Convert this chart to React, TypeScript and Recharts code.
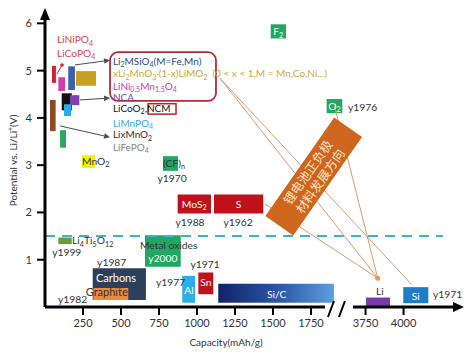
import React from 'react';
import { ComposedChart, XAxis, YAxis, ReferenceArea, ReferenceLine, ReferenceDot, Scatter, Label } from 'recharts';

const FONT = 'Lato, "Noto Sans", sans-serif';
const CJK = '"Noto Sans CJK SC", sans-serif';

// Broken capacity axis: values above 3000 mAh/g are drawn shifted left by GAP
const GAP = 1641;
const tx = (v: number) => (v > 3000 ? v - GAP : v);
const untx = (p: number) => (p > 1950 ? p + GAP : p);

const X_TICKS = [250, 500, 750, 1000, 1250, 1500, 1750, 3750, 4000];
const Y_TICKS = [1, 2, 3, 4, 5, 6];
const X_MAX = 4411;
const Y_MAX = 6.24;
const AXIS_LEFT_END = 1842;
const AXIS_RIGHT_START = 3667;
const BREAK_POS = 1921; // axis position (already shifted) of the "//" break

type Block = [string, number, number, number, number]; // name, cap min, cap max, V min, V max

const cathodes: Block[] = [
  ['LiNiPO4', 46, 72, 4.74, 5.1],
  ['LiNi0.5Mn1.5O4', 88, 132, 4.57, 4.86],
  ['Li2MSiO4', 153, 197, 4.59, 5.09],
  ['xLi2MnO3', 204, 336, 4.68, 4.99],
  ['LiCoO2', 110, 176, 4.16, 4.52],
  ['NCA', 164, 226, 4.27, 4.48],
  ['LiMnPO4', 125, 171, 4.04, 4.29],
  ['LixMnO2', 33, 70, 3.72, 4.38],
  ['LiFePO4', 99, 138, 3.37, 3.74],
];

const conversions: Block[] = [
  ['F2', 1485, 1586, 5.68, 5.98],
  ['O2', 1853, 1956, 4.1, 4.4],
  ['(CF)n', 776, 875, 2.88, 3.19],
  ['MoS2', 873, 1092, 1.98, 2.38],
  ['S', 1112, 1436, 1.98, 2.38],
];

const anodes: Block[] = [
  ['Li4Ti5O12', 88, 176, 1.33, 1.47],
  ['MetalOxides', 658, 893, 0.85, 1.52],
  ['Carbons', 314, 664, 0.15, 0.82],
  ['Graphite', 318, 548, 0.15, 0.4],
  ['Al', 903, 987, 0.09, 0.66],
  ['Sn', 1009, 1107, 0.27, 0.73],
  ['Si/C', 1140, 1901, 0.09, 0.49],
  ['Li', 3753, 3911, 0.02, 0.2],
  ['Si', 3998, 4163, 0.08, 0.42],
];

const BLOCK_COLORS: Record<string, string> = {
  LiNiPO4: '#d42032', 'LiNi0.5Mn1.5O4': '#d63ca8', Li2MSiO4: '#3a62a8', xLi2MnO3: '#c9a023',
  LiCoO2: '#111111', NCA: '#8040b0', LiMnPO4: '#28aee8', LixMnO2: '#8b4a2b', LiFePO4: '#2aaa60',
  F2: '#1fa862', O2: '#1fa862', '(CF)n': '#1fa862', MoS2: '#c0101a', S: '#c0101a',
  Li4Ti5O12: '#6b9a3c', MetalOxides: '#1fa862', Carbons: '#2e3f5c', Graphite: '#ee8a3c',
  Al: '#2eaee6', Sn: '#c0101a', 'Si/C': 'url(#sicGrad)', Li: '#7a3aa8', Si: '#1f7dc6',
};

// Cathode label list next to the left cluster
const CATHODE_LABEL_CAP = 447;
const cathodeLabels: [string, number][] = [
  ['Li_{2}MSiO_{4}(M=Fe,Mn)', 5.2],
  ['xLi_{2}MnO_{3}·(1-x)LiMO_{2}  (0 < x < 1,M = Mn,Co,Ni...)', 4.93],
  ['LiNi_{0.5}Mn_{1.5}O_{4}', 4.67],
  ['NCA', 4.43],
  ['LiCoO_{2},NCM', 4.2],
  ['LiMnPO_{4}', 3.89],
  ['LixMnO_{2}', 3.64],
  ['LiFePO_{4}', 3.38],
];
const CATHODE_LABEL_COLORS = ['#2b4a80', '#c4aa45', '#c33db2', '#7b3fa5', '#111111', '#35a7dc', '#4a2a20', '#85857a'];
const PHOSPHATE_LABEL_CAP = 79;
const phosphateLabels: [string, number][] = [['LiNiPO_{4}', 5.66], ['LiCoPO_{4}', 5.37]];

// label box around cathode names, and NCM box
const cathodeBox = { x1: 428, x2: 1125, y1: 4.36, y2: 5.39 };
const ncmBox = { x1: 678, x2: 862, y1: 4.08, y2: 4.3 };
const mnO2Highlight = { x1: 243, x2: 329, y1: 2.94, y2: 3.21 };

// captions: text, cap, V, colour kind, anchor
const captions: [string, number, number, string, string][] = [
  ['F_{2}', 1535, 5.83, 'w', 'middle'],
  ['O_{2}', 1904, 4.25, 'w', 'middle'],
  ['MoS_{2}', 982, 2.18, 'w', 'middle'],
  ['S', 1274, 2.18, 'w', 'middle'],
  ['Al', 947, 0.36, 'w', 'middle'],
  ['Sn', 1058, 0.53, 'w', 'middle'],
  ['Si/C', 1524, 0.27, 'w', 'middle'],
  ['Si', 4080, 0.23, 'w', 'middle'],
  ['Carbons', 467, 0.62, 'w', 'middle'],
  ['y2000', 776, 1.03, 'w', 'middle'],
  ['Graphite', 406, 0.32, 'd', 'middle'],
  ['Metal oxides', 814, 1.31, 'd', 'middle'],
  ['(CF)_{n}', 849, 3.04, 'd', 'middle'],
  ['Li_{4}Ti_{5}O_{12}', 178, 1.4, 'd', 'start'],
  ['Li', 3845, 0.34, 'd', 'middle'],
  ['MnO_{2}', 243, 3.09, 'd', 'start'],
];

// year labels: text, cap, V, anchor
const years: [string, number, number, string][] = [
  ['y1976', 1993, 4.23, 'start'],
  ['y1970', 836, 2.73, 'middle'],
  ['y1988', 954, 1.8, 'middle'],
  ['y1962', 1270, 1.8, 'middle'],
  ['y1999', 143, 1.15, 'middle'],
  ['y1987', 439, 0.95, 'middle'],
  ['y1982', 182, 0.17, 'middle'],
  ['y1977', 826, 0.53, 'middle'],
  ['y1971', 1053, 0.9, 'middle'],
  ['y1971', 4194, 0.27, 'start'],
];

// trend lines converging on Li and Si
const LI_POINT: [number, number] = [3830, 0.61];
const SI_POINT: [number, number] = [4055, 0.47];
const SRC_MNO3: [number, number] = [1151, 4.84];
const SRC_O2: [number, number] = [1905, 4.25];
const SRC_S: [number, number] = [1447, 2.18];
const trendLines: [[number, number], [number, number]][] = [
  [SRC_MNO3, LI_POINT],
  [SRC_MNO3, SI_POINT],
  [SRC_O2, LI_POINT],
  [SRC_S, LI_POINT],
];
const TREND_BOX: [number, number] = [1768, 2.76];

// black pointer arrows from blocks to the label box
const pointers: [[number, number], [number, number]][] = [
  [[197, 5.12], [428, 5.22]],
  [[230, 4.38], [428, 4.42]],
  [[99, 3.83], [428, 3.59]],
];
const redPointer: [[number, number], [number, number]] = [[79, 4.93], [112, 5.12]];

const DASH_V = 1.5;
const DASH_END = 4259;

function rich(s: string, fs: number) {
  const parts = s.split(/(_\{[^}]*\}|\^\{[^}]*\})/).filter((p) => p.length > 0);
  let cur = 0;
  return parts.map((p, i) => {
    let shift = 0;
    let size = fs;
    let t = p;
    if (p.startsWith('_{')) {
      shift = fs * 0.25; size = fs * 0.7; t = p.slice(2, -1);
    } else if (p.startsWith('^{')) {
      shift = -fs * 0.4; size = fs * 0.7; t = p.slice(2, -1);
    }
    const dy = shift - cur;
    cur = shift;
    return (
      <tspan key={i} dy={dy} fontSize={size}>
        {t}
      </tspan>
    );
  });
}

function textAt(key: string, cap: number, v: number, s: string, color: string, fs: number, anchor: string = 'start', weight: number = 400) {
  return (
    <ReferenceDot
      key={key}
      x={tx(cap)}
      y={v}
      ifOverflow="visible"
      shape={(p: any) => (
        <text
          x={p.cx}
          y={p.cy + fs * 0.35}
          textAnchor={anchor as any}
          fill={color}
          fontSize={fs}
          fontFamily={FONT}
          fontWeight={weight}
          style={{ whiteSpace: 'pre' }}
        >
          {rich(s, fs)}
        </text>
      )}
    />
  );
}

const arrowShape = (color: string) => (p: any) => {
  const { x1, y1, x2, y2 } = p;
  const a = Math.atan2(y2 - y1, x2 - x1);
  const L = 6;
  const W = 2.8;
  const bx = x2 - L * Math.cos(a);
  const by = y2 - L * Math.sin(a);
  const pts = `${x2},${y2} ${bx - W * Math.sin(a)},${by + W * Math.cos(a)} ${bx + W * Math.sin(a)},${by - W * Math.cos(a)}`;
  return (
    <g>
      <line x1={x1} y1={y1} x2={bx} y2={by} stroke={color} strokeWidth={1} />
      <polygon points={pts} fill={color} />
    </g>
  );
};

function blockAreas(list: Block[]) {
  return list.map(([name, c1, c2, v1, v2]) => (
    <ReferenceArea
      key={'b-' + name}
      x1={tx(c1)}
      x2={tx(c2)}
      y1={v1}
      y2={v2}
      fill={BLOCK_COLORS[name]}
      fillOpacity={1}
      stroke="none"
      ifOverflow="visible"
    />
  ));
}

export default function App() {
  const scatterData = [{ x: tx(LI_POINT[0]), y: LI_POINT[1] }];
  return (
    <div style={{ position: 'absolute', left: 0, top: 0, width: 474, height: 356, background: '#fff' }}>
      <ComposedChart width={474} height={356} margin={{ top: 12, right: 8, bottom: 0, left: 0 }}>
        <defs>
          <linearGradient id="sicGrad" x1="0" y1="0" x2="1" y2="0">
            <stop offset="0%" stopColor="#10236a" />
            <stop offset="55%" stopColor="#2d5aa8" />
            <stop offset="100%" stopColor="#5f9fdc" />
          </linearGradient>
        </defs>
        <XAxis
          type="number"
          dataKey="x"
          domain={[0, tx(X_MAX)]}
          allowDataOverflow
          ticks={X_TICKS.map(tx)}
          interval={0}
          tickFormatter={(v: number) => String(untx(v))}
          axisLine={false}
          tickLine={{ stroke: '#000', strokeWidth: 2 }}
          tickSize={8}
          tickMargin={4}
          height={49}
          tick={{ fontSize: 11, fill: '#333', fontFamily: FONT }}
        >
          <Label
            content={(props: any) => {
              const vb = props.viewBox || { x: 45, y: 307, width: 422 };
              return (
                <text x={vb.x + vb.width * 0.43} y={vb.y + 39} textAnchor="middle" fontSize={10} fill="#333" fontFamily={FONT}>
                  Capacity(mAh/g)
                </text>
              );
            }}
          />
        </XAxis>
        <YAxis
          type="number"
          dataKey="y"
          domain={[0, Y_MAX]}
          allowDataOverflow
          ticks={Y_TICKS}
          interval={0}
          width={45}
          axisLine={{ stroke: '#000', strokeWidth: 3 }}
          tickLine={{ stroke: '#000', strokeWidth: 2 }}
          tickSize={8}
          tickMargin={5}
          tick={{ fontSize: 11, fill: '#333', fontFamily: FONT }}
        >
          <Label
            content={(props: any) => {
              const vb = props.viewBox || { x: 0, y: 12, width: 45, height: 295 };
              const cx = vb.x + 16.5;
              const cy = vb.y + vb.height / 2 + 1;
              return (
                <text transform={`translate(${cx},${cy}) rotate(-90)`} textAnchor="middle" fontSize={10} fill="#333" fontFamily={FONT}>
                  {rich('Potential vs. Li/Li^{+}(V)', 10)}
                </text>
              );
            }}
          />
        </YAxis>

        {/* highlight behind MnO2 */}
        <ReferenceArea x1={mnO2Highlight.x1} x2={mnO2Highlight.x2} y1={mnO2Highlight.y1} y2={mnO2Highlight.y2} fill="#f4f400" fillOpacity={1} stroke="none" />

        {/* data blocks */}
        {blockAreas(cathodes)}
        {blockAreas(conversions)}
        {blockAreas(anodes)}

        <ReferenceArea
          x1={cathodeBox.x1}
          x2={cathodeBox.x2}
          y1={cathodeBox.y1}
          y2={cathodeBox.y2}
          ifOverflow="visible"
          shape={(p: any) => (
            <rect x={p.x} y={p.y} width={p.width} height={p.height} rx={8} ry={8} fill="none" stroke="#b52a3a" strokeWidth={1.8} />
          )}
        />
        <ReferenceArea
          x1={ncmBox.x1}
          x2={ncmBox.x2}
          y1={ncmBox.y1}
          y2={ncmBox.y2}
          ifOverflow="visible"
          shape={(p: any) => (
            <rect x={p.x} y={p.y} width={p.width} height={p.height} fill="none" stroke="#c0202a" strokeWidth={1.5} />
          )}
        />

        {/* dashed 1.5 V line */}
        <ReferenceLine
          segment={[{ x: 0, y: DASH_V }, { x: tx(DASH_END), y: DASH_V }]}
          stroke="#3fb1c9"
          strokeWidth={2}
          strokeDasharray="10 7"
          ifOverflow="visible"
        />

        {/* trend lines */}
        {trendLines.map(([a, b], i) => (
          <ReferenceLine
            key={'t' + i}
            segment={[{ x: tx(a[0]), y: a[1] }, { x: tx(b[0]), y: b[1] }]}
            stroke="#d89c70"
            strokeWidth={1}
            ifOverflow="visible"
          />
        ))}

        {/* pointer arrows */}
        {pointers.map(([a, b], i) => (
          <ReferenceLine
            key={'p' + i}
            segment={[{ x: tx(a[0]), y: a[1] }, { x: tx(b[0]), y: b[1] }]}
            ifOverflow="visible"
            shape={arrowShape('#4a4a5a')}
          />
        ))}
        <ReferenceLine
          segment={[{ x: redPointer[0][0], y: redPointer[0][1] }, { x: redPointer[1][0], y: redPointer[1][1] }]}
          stroke="#d42032"
          strokeWidth={1}
          ifOverflow="visible"
        />
        <ReferenceDot x={redPointer[1][0]} y={redPointer[1][1]} r={1.8} fill="#d42032" stroke="none" ifOverflow="visible" />

        {/* x axis with break */}
        <ReferenceLine segment={[{ x: 0, y: 0 }, { x: AXIS_LEFT_END, y: 0 }]} stroke="#000" strokeWidth={3} ifOverflow="visible" />
        <ReferenceLine segment={[{ x: tx(AXIS_RIGHT_START), y: 0 }, { x: tx(X_MAX) - 40, y: 0 }]} stroke="#000" strokeWidth={3} ifOverflow="visible" />
        <ReferenceDot
          x={BREAK_POS}
          y={0}
          ifOverflow="visible"
          shape={(p: any) => (
            <g stroke="#000" strokeWidth={2}>
              <line x1={p.cx - 9} y1={p.cy + 10} x2={p.cx - 3} y2={p.cy - 6} />
              <line x1={p.cx + 2} y1={p.cy + 10} x2={p.cx + 8} y2={p.cy - 6} />
            </g>
          )}
        />
        <ReferenceDot
          x={tx(X_MAX)}
          y={0}
          ifOverflow="visible"
          shape={(p: any) => (
            <polygon points={`${p.cx - 2},${p.cy} ${p.cx - 13},${p.cy - 5} ${p.cx - 13},${p.cy + 5}`} fill="#000" />
          )}
        />
        <ReferenceDot
          x={0}
          y={Y_MAX}
          ifOverflow="visible"
          shape={(p: any) => (
            <polygon points={`${p.cx},${p.cy - 4} ${p.cx - 5},${p.cy + 8} ${p.cx + 5},${p.cy + 8}`} fill="#000" />
          )}
        />

        {/* text labels */}
        {phosphateLabels.map(([s, v], i) => textAt('ph' + i, PHOSPHATE_LABEL_CAP, v, s, '#d94452', 10.2))}
        {cathodeLabels.map(([s, v], i) => textAt('cl' + i, CATHODE_LABEL_CAP, v, s, CATHODE_LABEL_COLORS[i], 10))}
        {captions.map(([s, c, v, kind, anchor], i) =>
          textAt('cap' + i, c, v, s, kind === 'w' ? '#ffffff' : '#333333', s === 'Carbons' || s === 'Graphite' ? 11 : 10.3, anchor)
        )}
        {years.map(([s, c, v, anchor], i) => textAt('y' + i, c, v, s, '#333333', 10.3, anchor))}

        {/* trend direction box */}
        <ReferenceDot
          x={TREND_BOX[0]}
          y={TREND_BOX[1]}
          ifOverflow="visible"
          shape={(p: any) => (
            <g transform={`translate(${p.cx},${p.cy}) rotate(-55)`}>
              <rect x={-60} y={-17} width={120} height={34} fill="#cf661d" />
              <text x={0} y={-2.5} textAnchor="middle" fontSize={12.5} fill="#fde3c8" fontFamily={CJK}>
                锂电池正负极
              </text>
              <text x={0} y={12.5} textAnchor="middle" fontSize={12.5} fill="#fde3c8" fontFamily={CJK}>
                材料发展方向
              </text>
            </g>
          )}
        />

        <Scatter
          data={scatterData}
          dataKey="y"
          isAnimationActive={false}
          shape={(p: any) => <circle cx={p.cx} cy={p.cy} r={2.5} fill="#e69866" />}
        />
      </ComposedChart>
    </div>
  );
}
